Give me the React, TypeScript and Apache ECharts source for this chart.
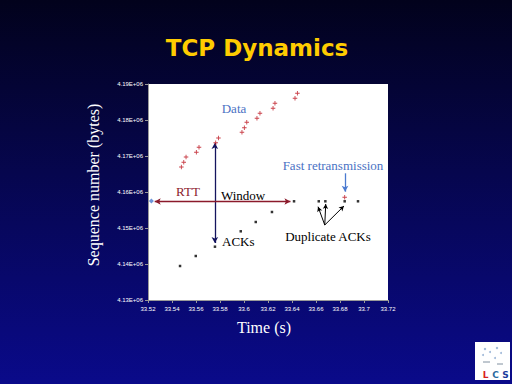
import React, { useEffect, useRef } from "react";
import * as echarts from "echarts";

// Data segments sent (time s, sequence number bytes)
const dataTime = [33.5478, 33.5498, 33.5517, 33.5603, 33.5625, 33.5764, 33.5787, 33.5983, 33.6003, 33.6023, 33.6108, 33.6133, 33.6242, 33.6258, 33.6425, 33.6445, 33.6839];
const dataSeq = [4166944, 4168250, 4169722, 4171028, 4172417, 4173694, 4175000, 4176583, 4177861, 4179361, 4180472, 4181861, 4183250, 4184639, 4186028, 4187417, 4158528];

// ACKs received
const ackTime = [33.5467, 33.5598, 33.5758, 33.5973, 33.6098, 33.6233, 33.6417, 33.6623, 33.6678, 33.6839, 33.695];
const ackSeq = [4139444, 4142222, 4144806, 4149083, 4151667, 4154444, 4157417, 4157417, 4157417, 4157417, 4157417];

// Start marker
const startTime = [33.5228];
const startSeq = [4157500];

// Axis ranges
const xMin = 33.52;
const xMax = 33.72;
const xStep = 0.02;
const yMin = 4130000;
const yMax = 4190000;
const yStep = 10000;

// Annotation arrows (data coordinates)
const windowArrow = [[33.5757, 4173611], [33.5757, 4145833]];
const rttArrow = [[33.5256, 4157361], [33.6387, 4157361]];
const fastArrow = [[33.6842, 4165194], [33.6842, 4160083]];
const dupFrom = [33.6673, 4150833];
const dupTargets = [[33.6617, 4155917], [33.6681, 4156667], [33.6833, 4156111]];

const plusPath = "path://M2,0H3V2H5V3H3V5H2V3H0V2H2Z";

export default function App() {
  const ref = useRef<HTMLDivElement>(null);
  useEffect(() => {
    const chart = echarts.init(ref.current!, null, { renderer: "svg" });
    const serif = "Liberation Serif, Times New Roman, serif";
    const option: any = {
      animation: false,
      backgroundColor: "transparent",
      grid: {
        left: 148,
        right: 124,
        top: 84,
        bottom: 84,
        show: true,
        backgroundColor: "#ffffff",
        borderWidth: 0,
      },
      xAxis: {
        type: "value",
        min: xMin,
        max: xMax,
        interval: xStep,
        axisLine: { show: true, lineStyle: { color: "#9a9a9a", width: 1 } },
        axisTick: { show: true, length: 3, lineStyle: { color: "#9a9a9a" } },
        splitLine: { show: false },
        axisLabel: {
          color: "#ffffff",
          fontSize: 6,
          fontFamily: "Liberation Sans, Arial, sans-serif",
          margin: 6,
          formatter: (v: number) => parseFloat(v.toFixed(2)).toString(),
        },
      },
      yAxis: {
        type: "value",
        min: yMin,
        max: yMax,
        interval: yStep,
        axisLine: { show: true, lineStyle: { color: "#9a9a9a", width: 1 } },
        axisTick: { show: true, length: 3, lineStyle: { color: "#9a9a9a" } },
        splitLine: { show: false },
        axisLabel: {
          color: "#ffffff",
          fontSize: 6,
          fontFamily: "Liberation Sans, Arial, sans-serif",
          margin: 5,
          formatter: (v: number) => (v / 1e6).toFixed(2) + "E+06",
        },
      },
      series: [
        {
          name: "Data",
          type: "scatter",
          symbol: plusPath,
          symbolSize: 4.5,
          itemStyle: { color: "#bb101c" },
          data: dataTime.map((t, i) => [t, dataSeq[i]]),
          silent: true,
          z: 5,
        },
        {
          name: "ACKs",
          type: "scatter",
          symbol: "rect",
          symbolSize: 2.5,
          itemStyle: { color: "#000000" },
          data: ackTime.map((t, i) => [t, ackSeq[i]]),
          silent: true,
          z: 5,
        },
        {
          name: "Start",
          type: "scatter",
          symbol: "diamond",
          symbolSize: 5,
          itemStyle: { color: "#4a7ad0" },
          data: startTime.map((t, i) => [t, startSeq[i]]),
          silent: true,
          z: 6,
        },
        {
          name: "arrows-navy",
          type: "scatter",
          data: [],
          silent: true,
          markLine: {
            silent: true,
            symbol: ["arrow", "arrow"],
            symbolSize: [5, 6],
            label: { show: false },
            lineStyle: { color: "#14145e", width: 1.3, type: "solid" },
            data: [[{ coord: windowArrow[0] }, { coord: windowArrow[1] }]],
          },
        },
        {
          name: "arrows-red",
          type: "scatter",
          data: [],
          silent: true,
          markLine: {
            silent: true,
            symbol: ["arrow", "arrow"],
            symbolSize: [5, 6],
            label: { show: false },
            lineStyle: { color: "#8b1a2b", width: 1.3, type: "solid" },
            data: [[{ coord: rttArrow[0] }, { coord: rttArrow[1] }]],
          },
        },
        {
          name: "arrows-blue",
          type: "scatter",
          data: [],
          silent: true,
          markLine: {
            silent: true,
            symbol: ["none", "arrow"],
            symbolSize: [5, 6],
            label: { show: false },
            lineStyle: { color: "#4a7ad0", width: 1.3, type: "solid" },
            data: [[{ coord: fastArrow[0] }, { coord: fastArrow[1] }]],
          },
        },
        {
          name: "arrows-black",
          type: "scatter",
          data: [],
          silent: true,
          markLine: {
            silent: true,
            symbol: ["none", "arrow"],
            symbolSize: [4, 5],
            label: { show: false },
            lineStyle: { color: "#000000", width: 1, type: "solid" },
            data: dupTargets.map((tg) => [{ coord: dupFrom }, { coord: tg }]),
          },
        },
      ],
      graphic: [
        {
          type: "text",
          x: 257,
          y: 48,
          style: {
            text: "TCP Dynamics",
            fill: "#ffcc00",
            font: "bold 23px 'DejaVu Sans', sans-serif",
            textAlign: "center",
            textVerticalAlign: "middle",
          },
        },
        {
          type: "text",
          x: 93,
          y: 185,
          rotation: Math.PI / 2,
          style: {
            text: "Sequence number (bytes)",
            fill: "#ffffff",
            font: "16px " + serif,
            textAlign: "center",
            textVerticalAlign: "middle",
          },
        },
        {
          type: "text",
          x: 264,
          y: 327,
          style: {
            text: "Time (s)",
            fill: "#ffffff",
            font: "16px " + serif,
            textAlign: "center",
            textVerticalAlign: "middle",
          },
        },
        {
          type: "text",
          x: 234,
          y: 108,
          style: { text: "Data", fill: "#4a72c4", font: "13px " + serif, textAlign: "center", textVerticalAlign: "middle" },
        },
        {
          type: "text",
          x: 188,
          y: 191,
          style: { text: "RTT", fill: "#8b1a2b", font: "13px " + serif, textAlign: "center", textVerticalAlign: "middle" },
        },
        {
          type: "text",
          x: 221,
          y: 195,
          style: { text: "Window", fill: "#000000", font: "13px " + serif, textAlign: "left", textVerticalAlign: "middle" },
        },
        {
          type: "text",
          x: 222,
          y: 241,
          style: { text: "ACKs", fill: "#000000", font: "13px " + serif, textAlign: "left", textVerticalAlign: "middle" },
        },
        {
          type: "text",
          x: 328,
          y: 236,
          style: { text: "Duplicate ACKs", fill: "#000000", font: "13px " + serif, textAlign: "center", textVerticalAlign: "middle" },
        },
        {
          type: "text",
          x: 333,
          y: 165,
          style: { text: "Fast retransmission", fill: "#4a72c4", font: "13px " + serif, textAlign: "center", textVerticalAlign: "middle" },
        },
        {
          type: "group",
          children: [
            { type: "rect", shape: { x: 475, y: 342, width: 35, height: 38 }, style: { fill: "#ffffff" } },
            { type: "circle", shape: { cx: 485, cy: 349, r: 1.2 }, style: { fill: "#9fb8d8" } },
            { type: "circle", shape: { cx: 490, cy: 352, r: 1 }, style: { fill: "#9fb8d8" } },
            { type: "circle", shape: { cx: 483, cy: 355, r: 1 }, style: { fill: "#9fb8d8" } },
            { type: "circle", shape: { cx: 497, cy: 348, r: 1.2 }, style: { fill: "#9fb8d8" } },
            { type: "circle", shape: { cx: 501, cy: 353, r: 1 }, style: { fill: "#9fb8d8" } },
            { type: "circle", shape: { cx: 495, cy: 358, r: 1 }, style: { fill: "#9fb8d8" } },
            { type: "line", shape: { x1: 483, y1: 362, x2: 490, y2: 362 }, style: { stroke: "#8090a0", lineWidth: 1 } },
            { type: "line", shape: { x1: 497, y1: 364, x2: 503, y2: 364 }, style: { stroke: "#8090a0", lineWidth: 1 } },
            { type: "text", x: 485.5, y: 374.5, style: { text: "L", fill: "#d82020", font: "bold 9px 'DejaVu Sans', sans-serif", textAlign: "center", textVerticalAlign: "middle" } },
            { type: "text", x: 495.5, y: 374.5, style: { text: "C", fill: "#2a6aa0", font: "bold 9px 'DejaVu Sans', sans-serif", textAlign: "center", textVerticalAlign: "middle" } },
            { type: "text", x: 505.5, y: 374.5, style: { text: "S", fill: "#1c3c9c", font: "bold 9px 'DejaVu Sans', sans-serif", textAlign: "center", textVerticalAlign: "middle" } },
          ],
        },
      ],
    };
    chart.setOption(option);
    return () => chart.dispose();
  }, []);
  return (
    <div
      ref={ref}
      style={{
        position: "fixed",
        left: 0,
        top: 0,
        width: 512,
        height: 384,
        background: "linear-gradient(to bottom, #02021c 0%, #06064e 45%, #0a0a8a 100%)",
      }}
    />
  );
}
